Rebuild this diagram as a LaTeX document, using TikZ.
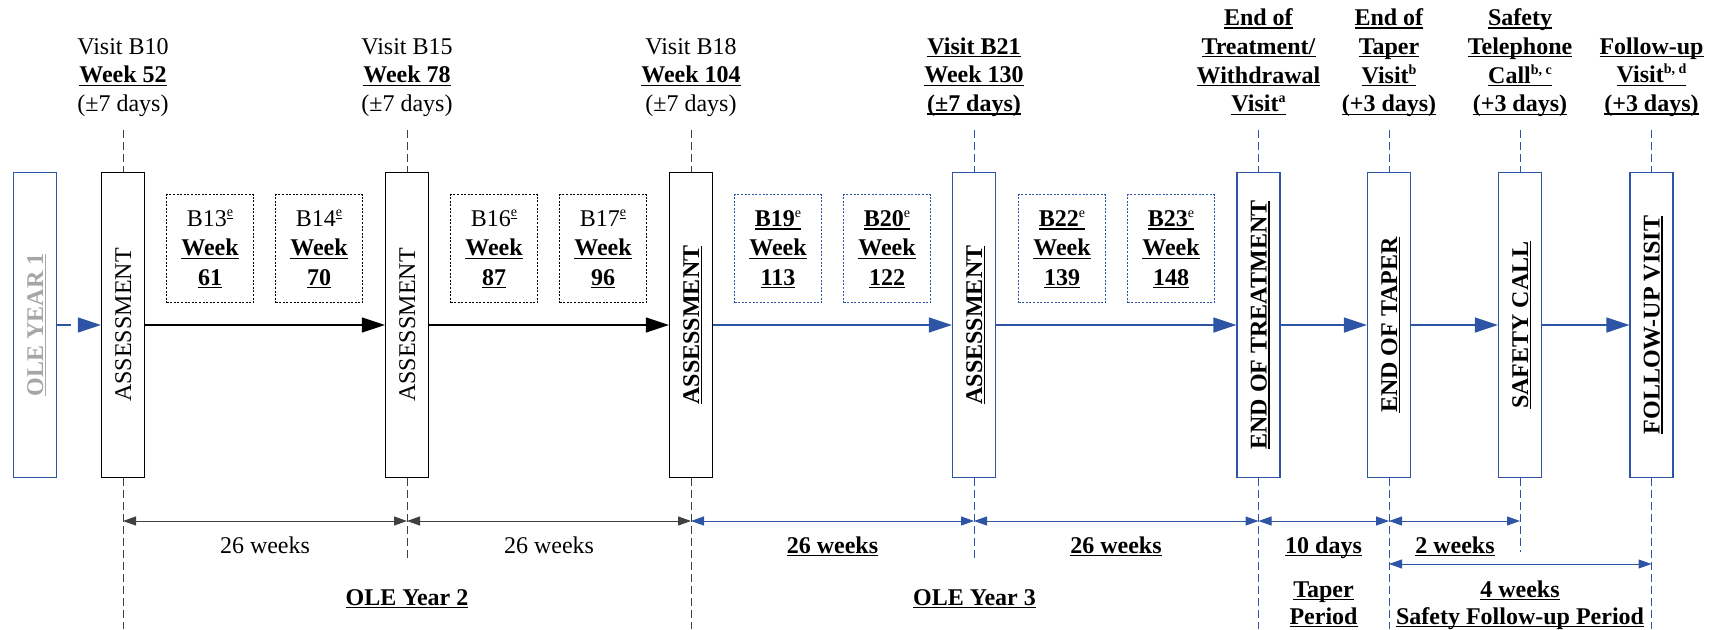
\documentclass[tikz,border=0pt]{standalone}
\usepackage{fontspec}
\setmainfont{Liberation Serif}
\usetikzlibrary{arrows.meta}
\definecolor{myblue}{RGB}{46,84,165}
\definecolor{mygray}{RGB}{166,166,166}
\definecolor{dimgray}{RGB}{64,64,64}
\newcommand\ulx[1]{\setbox0=\hbox{#1}\rlap{\rule[-3pt]{\wd0}{1.3pt}}\box0}
\newcommand\supx[1]{\raisebox{9pt}{\fontsize{14}{14}\selectfont #1}}
\newcommand\ule{\raisebox{10pt}{\fontsize{14}{14}\selectfont\setbox0=\hbox{e}\rlap{\rule[-1.8pt]{\wd0}{1pt}}\box0}}
\newcommand\bu[1]{\ulx{\textbf{#1}}}
\newcommand\stk[1]{\begin{tabular}[t]{@{}c@{}}#1\end{tabular}}
\tikzset{
  bigbox/.style={draw, line width=1.3pt, minimum width=43pt, minimum height=305pt, inner sep=0pt},
  rtext/.style={rotate=90, inner sep=0pt, text height=16pt, text depth=0pt, anchor=center},
  vbox/.style={draw, line width=1.2pt, dash pattern=on 2pt off 1.6pt, minimum width=87pt, minimum height=108pt, inner sep=0pt},
  lbl/.style={anchor=base, inner sep=0pt},
  vtxt/.style={anchor=base, inner sep=0pt, font=\fontsize{24}{29.2}\selectfont},
  ptxt/.style={anchor=base, inner sep=0pt, font=\fontsize{24}{27}\selectfont},
  arr/.style={-{Triangle[length=23pt,width=15pt]}, line width=1.3pt},
  dimarr/.style={{Triangle[length=13pt,width=9pt]}-{Triangle[length=13pt,width=9pt]}, line width=1pt},
  vdash/.style={line width=0.9pt, dash pattern=on 8pt off 4pt},
}
\begin{document}
\begin{tikzpicture}[x=1pt, y=-1pt, font=\fontsize{24}{28.8}\selectfont]
\useasboundingbox (0,0) rectangle (1715,629);

% main boxes
\node[bigbox, draw=myblue, line width=1.1pt] (ole) at (35,325) {};
\node[bigbox] (a1) at (123,325) {};
\node[bigbox] (a2) at (407,325) {};
\node[bigbox] (a3) at (691,325) {};
\node[bigbox, draw=myblue, line width=1.1pt] (a4) at (974,325) {};
\node[bigbox, draw=myblue, line width=1.1pt] (a5) at (1258.5,325) {};
\node[bigbox, draw=myblue, line width=1.1pt] (a6) at (1389,325) {};
\node[bigbox, draw=myblue, line width=1.1pt] (a7) at (1520,325) {};
\node[bigbox, draw=myblue, line width=1.1pt] (a8) at (1651.5,325) {};

% rotated texts
\node[rtext, text=mygray] (tole) at (ole.center) {\bu{OLE YEAR 1}};
\node[rtext] (t1) at (a1.center) {ASSESSMENT};
\node[rtext] (t2) at (a2.center) {ASSESSMENT};
\node[rtext] (t3) at (a3.center) {\bu{ASSESSMENT}};
\node[rtext] (t4) at (a4.center) {\bu{ASSESSMENT}};
\node[rtext] (t5) at (a5.center) {\bu{END OF TREATMENT}};
\node[rtext] (t6) at (a6.center) {\bu{END OF TAPER}};
\node[rtext] (t7) at (a7.center) {\bu{SAFETY CALL}};
\node[rtext] (t8) at (a8.center) {\bu{FOLLOW-UP VISIT}};

% top labels
\node[lbl] (l1) at (123,54) {\stk{Visit B10\\\bu{Week 52}\\(±7 days)}};
\node[lbl] (l2) at (407,54) {\stk{Visit B15\\\bu{Week 78}\\(±7 days)}};
\node[lbl] (l3) at (691,54) {\stk{Visit B18\\\bu{Week 104}\\(±7 days)}};
\node[lbl] (l4) at (974,54) {\stk{\bu{Visit B21}\\\bu{Week 130}\\\bu{(±7 days)}}};
\node[lbl] (l5) at (1258.5,25.5) {\stk{\bu{End of}\\\bu{Treatment/}\\\bu{Withdrawal}\\\bu{Visit\supx{a}}}};
\node[lbl] (l6) at (1389,25.5) {\stk{\bu{End of}\\\bu{Taper}\\\bu{Visit\supx{b}}\\\bu{(+3 days)}}};
\node[lbl] (l7) at (1520,25.5) {\stk{\bu{Safety}\\\bu{Telephone}\\\bu{Call\supx{b, c}}\\\bu{(+3 days)}}};
\node[lbl] (l8) at (1651.5,54) {\stk{\bu{Follow-up}\\\bu{Visit\supx{b, d}}\\\bu{(+3 days)}}};

% dashed verticals: tops
\coordinate (u1) at (123,130);
\coordinate (u2) at (407,130);
\coordinate (u3) at (691,130);
\coordinate (u4) at (974,130);
\coordinate (u5) at (1258.5,130);
\coordinate (u6) at (1389,130);
\coordinate (u7) at (1520,130);
\coordinate (u8) at (1651.5,130);
% bottoms
\coordinate (w1) at (123,629);
\coordinate (w2) at (407,558);
\coordinate (w3) at (691,629);
\coordinate (w4) at (974,558);
\coordinate (w5) at (1258.5,629);
\coordinate (w6) at (1389,629);
\coordinate (w7) at (1520,552);
\coordinate (w8) at (1651.5,629);

\foreach \i in {1,2,3}{
  \draw[vdash, dimgray] (u\i) -- (a\i.north);
  \draw[vdash, dimgray] (a\i.south) -- (w\i);
}
\foreach \i in {4,5,6,7,8}{
  \draw[vdash, myblue] (u\i) -- (a\i.north);
  \draw[vdash, myblue] (a\i.south) -- (w\i);
}

% visit boxes
\node[vbox] (b13) at (210,248.5) {};
\node[vbox] (b14) at (319,248.5) {};
\node[vbox] (b16) at (494,248.5) {};
\node[vbox] (b17) at (603,248.5) {};
\node[vbox, draw=myblue] (b19) at (778,248.5) {};
\node[vbox, draw=myblue] (b20) at (887,248.5) {};
\node[vbox, draw=myblue] (b22) at (1062,248.5) {};
\node[vbox, draw=myblue] (b23) at (1171,248.5) {};

\node[vtxt] (x13) at (210,226.7) {\stk{B13\ule\\\bu{Week}\\\bu{61}}};
\node[vtxt] (x14) at (319,226.7) {\stk{B14\ule\\\bu{Week}\\\bu{70}}};
\node[vtxt] (x16) at (494,226.7) {\stk{B16\ule\\\bu{Week}\\\bu{87}}};
\node[vtxt] (x17) at (603,226.7) {\stk{B17\ule\\\bu{Week}\\\bu{96}}};
\node[vtxt] (x19) at (778,226.7) {\stk{\ulx{\textbf{B19}\supx{e}}\\\bu{Week}\\\bu{113}}};
\node[vtxt] (x20) at (887,226.7) {\stk{\ulx{\textbf{B20}\supx{e}}\\\bu{Week}\\\bu{122}}};
\node[vtxt] (x22) at (1062,226.7) {\stk{\ulx{\textbf{B22}\supx{e}}\\\bu{Week}\\\bu{139}}};
\node[vtxt] (x23) at (1171,226.7) {\stk{\ulx{\textbf{B23}\supx{e}}\\\bu{Week}\\\bu{148}}};

% main arrows
\draw[arr, myblue, dash pattern=on 14pt off 40pt] (ole) -- (a1);
\draw[arr, black] (a1) -- (a2);
\draw[arr, black] (a2) -- (a3);
\draw[arr, myblue] (a3) -- (a4);
\draw[arr, myblue] (a4) -- (a5);
\draw[arr, myblue] (a5) -- (a6);
\draw[arr, myblue] (a6) -- (a7);
\draw[arr, myblue] (a7) -- (a8);

% dimension lines
\coordinate (m1) at (123,521);
\coordinate (m2) at (407,521);
\coordinate (m3) at (691,521);
\coordinate (m4) at (974,521);
\coordinate (m5) at (1258.5,521);
\coordinate (m6) at (1389,521);
\coordinate (m7) at (1520,521);
\coordinate (n6) at (1389,564);
\coordinate (n8) at (1651.5,564);
\draw[dimarr, dimgray] (m1) -- (m2);
\draw[dimarr, dimgray] (m2) -- (m3);
\draw[dimarr, myblue] (m3) -- (m4);
\draw[dimarr, myblue] (m4) -- (m5);
\draw[dimarr, myblue] (m5) -- (m6);
\draw[dimarr, myblue] (m6) -- (m7);
\draw[dimarr, myblue] (n6) -- (n8);

% bottom labels
\node[lbl] (d1) at (265,553) {26 weeks};
\node[lbl] (d2) at (549,553) {26 weeks};
\node[lbl] (d3) at (832.5,553) {\bu{26 weeks}};
\node[lbl] (d4) at (1116,553) {\bu{26 weeks}};
\node[lbl] (d5) at (1323.5,553) {\bu{10 days}};
\node[lbl] (d6) at (1455,553) {\bu{2 weeks}};
\node[ptxt] (p1) at (1323.5,597) {\stk{\bu{Taper}\\\bu{Period}}};
\node[ptxt] (p2) at (1520,597) {\stk{\bu{4 weeks}\\\bu{Safety Follow-up Period}}};
\node[lbl] (y2) at (407,605) {\bu{OLE Year 2}};
\node[lbl] (y3) at (974.5,605) {\bu{OLE Year 3}};
\end{tikzpicture}
\end{document}
